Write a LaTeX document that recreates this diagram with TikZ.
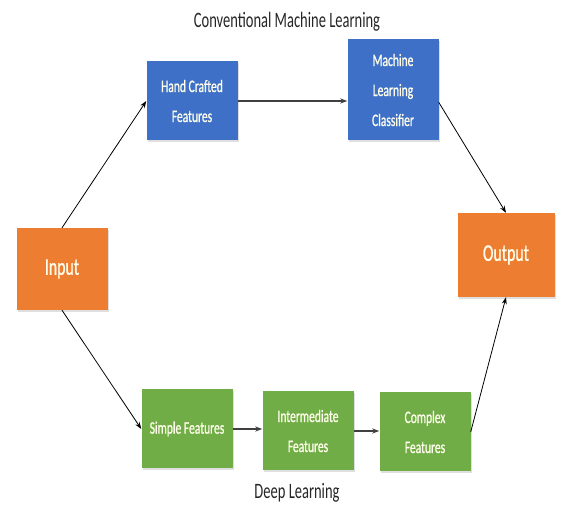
\documentclass[tikz,border=0pt]{standalone}
\usepackage{fontspec}
\setmainfont{Carlito}[FakeStretch=0.66]
\newfontfamily\boxfont{Carlito}[FakeStretch=0.66, FakeBold=0.8]
\usetikzlibrary{arrows.meta,shadows}
\definecolor{mlblue}{RGB}{62,112,200}
\definecolor{ioorange}{RGB}{237,125,49}
\definecolor{dlgreen}{RGB}{112,173,71}

\begin{document}
\begin{tikzpicture}[x=1pt, y=-1pt, ->, >={Stealth[length=7pt,width=5pt]},
        box/.style={rectangle, minimum width=91pt, minimum height=79pt, align=center, text=white!92!yellow,
          font=\boxfont\fontsize{17.5}{30}\selectfont,
          drop shadow={opacity=0.25, shadow xshift=1pt, shadow yshift=-2pt}},
        thin arrow/.style={line width=0.8pt},
        thick arrow/.style={line width=1.6pt, draw=black!75}]
      \tikzstyle{cml} = [box, fill=mlblue]
      \tikzstyle{io} = [box, fill=ioorange, minimum height=82pt, font=\boxfont\fontsize{24}{30}\selectfont]
      \tikzstyle{dl} = [box, fill=dlgreen]
      \tikzstyle{caption} = [font=\fontsize{22}{26}\selectfont, text=black!85]
      \useasboundingbox (0,0) rectangle (563,510);
      \node (Input) [io] at (62,269) {Input};
      \node (Output) [io, minimum width=97pt, minimum height=84pt] at (506,255) {Output};
      \node (handcrafted) [cml] at (192,101) {Hand Crafted\\Features};
      \node (mlclassifier) [cml, minimum height=101pt] at (393,90) {Machine\\Learning\\Classifier};
      \node (simplefeatures) [dl] at (187,429) {Simple Features};
      \node (intermediatefeatures) [dl] at (308,431) {Intermediate\\Features};
      \node (complexfeatures) [dl] at (425,432) {Complex\\Features};
      \node (cmltitle) [caption] at (287,22) {Conventional Machine Learning};
      \node (dltitle) [caption] at (297,493) {Deep Learning};
      % conventional path
      \draw[thin arrow] (Input.north) -- (handcrafted.west);
      \draw[thick arrow] (handcrafted.east) -- (handcrafted.east -| mlclassifier.west);
      \draw[thin arrow] (mlclassifier.-15) -- (Output.north);
      % deep learning path
      \draw[thin arrow] (Input.south) -- (simplefeatures.west);
      \draw[thick arrow] (simplefeatures.east) -- (simplefeatures.east -| intermediatefeatures.west);
      \draw[thick arrow] (intermediatefeatures.east) -- (intermediatefeatures.east -| complexfeatures.west);
      \draw[thin arrow] (complexfeatures.east) -- (Output.south);
    \end{tikzpicture}
\end{document}
